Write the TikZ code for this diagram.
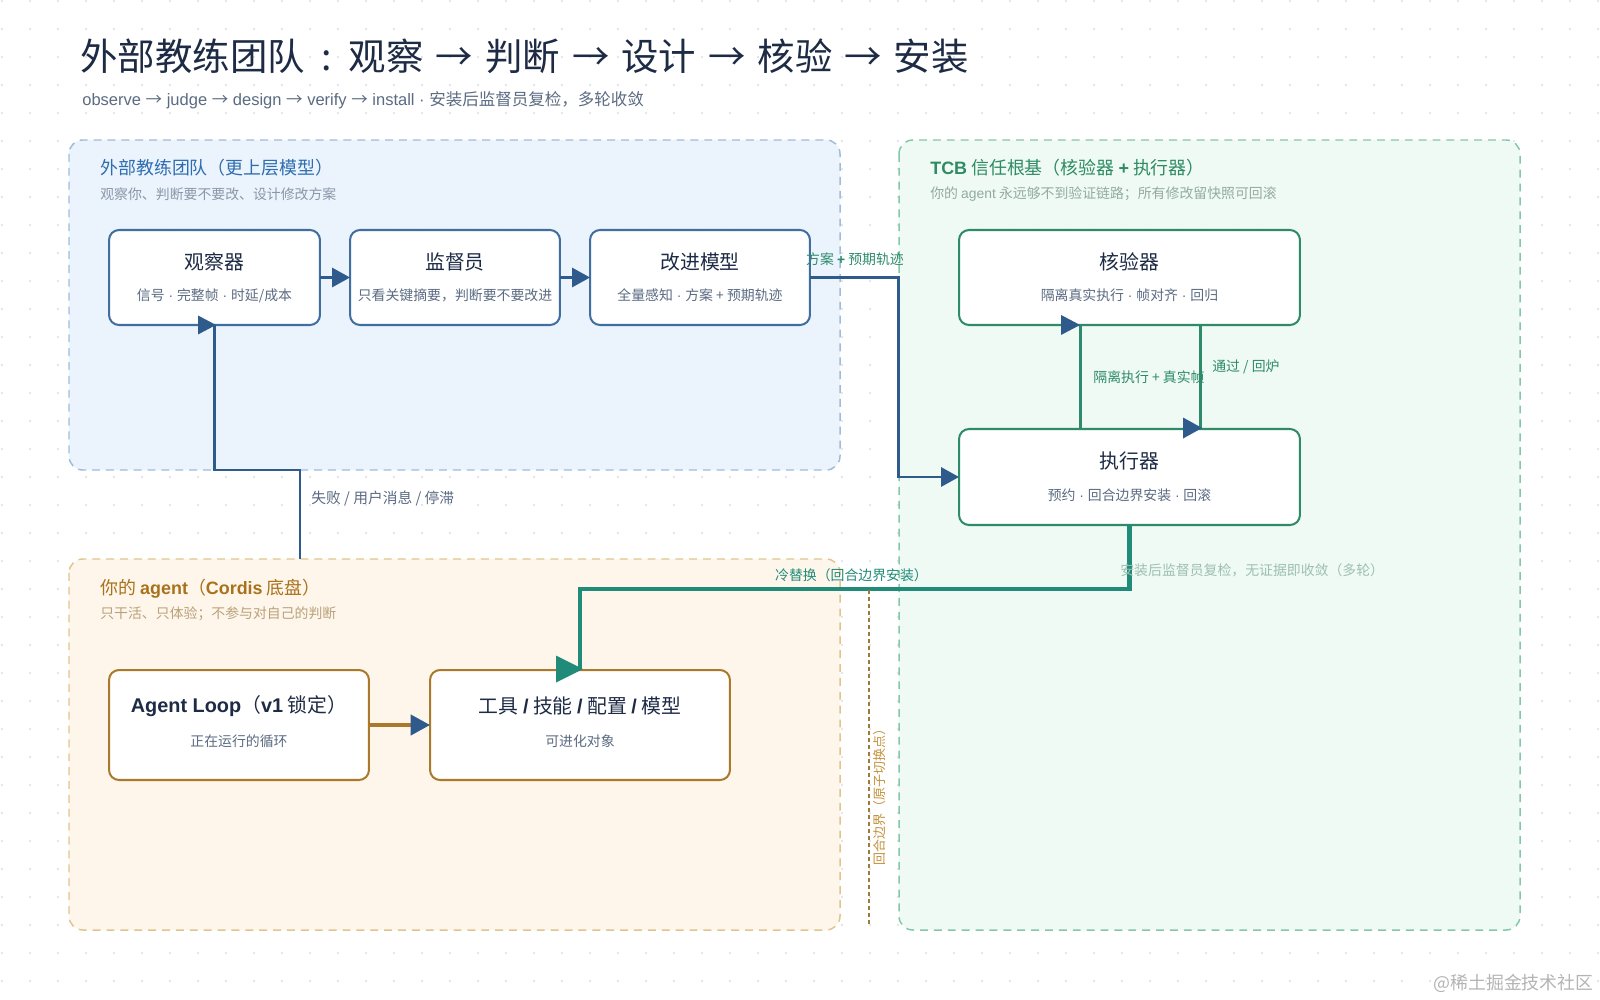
\documentclass[tikz,border=0pt]{standalone}
\usepackage{fontspec}
\setmainfont{Noto Sans CJK SC}
\newfontfamily\lat{Liberation Sans}
\usetikzlibrary{arrows.meta,calc}
\newcommand\fsz[1]{\fontsize{#1}{#1}\selectfont}
\newcommand\md{{\lat\ ·\ }}
\newcommand\tar{\hspace{0.32em}→\hspace{0.32em}}
\newcommand\sar{{\lat\ }→{\lat\ }}
\definecolor{navy}{HTML}{1E2B45}
\definecolor{slate}{HTML}{5B6B82}
\definecolor{dotc}{HTML}{D9DDE3}
\definecolor{bfill}{HTML}{EAF3FD}
\definecolor{bborder}{HTML}{A0BCD8}
\definecolor{btitle}{HTML}{2E6DB0}
\definecolor{bsub}{HTML}{8A97A8}
\definecolor{bbox}{HTML}{3F6E9F}
\definecolor{barrow}{HTML}{2E5B8C}
\definecolor{gfill}{HTML}{EEFAF4}
\definecolor{gborder}{HTML}{84C8A8}
\definecolor{gtitle}{HTML}{2E8B62}
\definecolor{gsub}{HTML}{92ABA2}
\definecolor{gbox}{HTML}{2F8A68}
\definecolor{gline}{HTML}{2E8A6C}
\definecolor{glabel}{HTML}{2E8B6A}
\definecolor{teal}{HTML}{1F8B78}
\definecolor{faint}{HTML}{9DBFB2}
\definecolor{ofill}{HTML}{FEF6EA}
\definecolor{oborder}{HTML}{E0C58E}
\definecolor{otitle}{HTML}{A8721C}
\definecolor{osub}{HTML}{B9A27A}
\definecolor{obox}{HTML}{A97A2C}
\definecolor{odot}{HTML}{9C7A3A}
\definecolor{orot}{HTML}{C4923C}
\definecolor{wm}{HTML}{B4B4B4}
\newcommand\tipR[4]{\fill[#1] (#2) ++(-#3,-#4) -- ++(#3,#4) -- ++(-#3,#4) -- cycle;}
\tikzset{
  grpbox/.style={dash pattern=on 4.5pt off 3.4pt, line width=0.85pt, rounded corners=7.9pt},
  card/.style={draw, fill=white, line width=1.15pt, rounded corners=5.7pt, inner sep=0pt, outer sep=0pt},
  gt/.style={anchor=west, inner sep=0pt, font=\fsz{10.2pt}},
  gs/.style={anchor=west, inner sep=0pt, font=\fsz{7.9pt}},
  ct/.style={inner sep=0pt, font=\fsz{11.3pt}, text=navy},
  cs/.style={inner sep=0pt, font=\fsz{7.9pt}, text=slate},
  elab/.style={inner sep=0pt, font=\fsz{7.9pt}},
  bline/.style={draw=barrow, line width=1.7pt},
  tipB/.style={-{Triangle[length=10.2pt,width=10.8pt,color=barrow]}},
}
\begin{document}
\begin{tikzpicture}[x=0.02cm,y=-0.02cm]
\useasboundingbox (0,0) rectangle (1600,1000);
\fill[white] (0,0) rectangle (1600,1000);
\foreach \i in {0,...,57}{\foreach \j in {0,...,35}{\fill[dotc] (2+28*\i,1+28*\j) circle[radius=0.65pt];}}

% groups
\draw[grpbox, draw=bborder, fill=bfill, fill opacity=0.92] (69,140) rectangle (840,470);
\draw[grpbox, draw=gborder, fill=gfill, fill opacity=0.92] (899,140) rectangle (1520,930);
\draw[grpbox, draw=oborder, fill=ofill, fill opacity=0.92] (69,559) rectangle (840,930);

% titles
\node[anchor=west, inner sep=0pt, font=\fsz{21.3pt}, text=navy] (title) at (80,56) {外部教练团队\hspace{0.45em}:\hspace{0.45em}观察\tar 判断\tar 设计\tar 核验\tar 安装};
\node[anchor=west, inner sep=0pt, font=\fsz{9.4pt}, text=slate] (subtitle) at (82,100) {{\lat observe}\sar{\lat judge}\sar{\lat design}\sar{\lat verify}\sar{\lat install}\md 安装后监督员复检，多轮收敛};

\node[gt, text=btitle] (bT) at (100,168) {外部教练团队（更上层模型）};
\node[gs, text=bsub] (bS) at (100,194) {观察你、判断要不要改、设计修改方案};
\node[gt, text=gtitle] (gT) at (930,168) {{\lat\bfseries TCB} 信任根基（核验器 {\lat\bfseries +} 执行器）};
\node[gs, text=gsub] (gS) at (930,194) {你的 {\lat agent} 永远够不到验证链路；所有修改留快照可回滚};
\node[gt, text=otitle] (oT) at (100,589) {你的 {\lat\bfseries agent}（{\lat\bfseries Cordis} 底盘）};
\node[gs, text=osub] (oS) at (100,614) {只干活、只体验；不参与对自己的判断};

% cards
\node[card, draw=bbox, minimum width=4.22cm, minimum height=1.9cm] (obs) at (214.5,277.5) {};
\node[ct] (obsT) at ($(obs.center)+(0,-16)$) {观察器};
\node[cs] (obsS) at ($(obs.center)+(0,18)$) {信号\md 完整帧\md 时延/成本};

\node[card, draw=bbox, minimum width=4.2cm, minimum height=1.9cm] (sup) at (455,277.5) {};
\node[ct] (supT) at ($(sup.center)+(0,-16)$) {监督员};
\node[cs] (supS) at ($(sup.center)+(0,18)$) {只看关键摘要，判断要不要改进};

\node[card, draw=bbox, minimum width=4.4cm, minimum height=1.9cm] (imp) at (700,277.5) {};
\node[ct] (impT) at ($(imp.center)+(0,-16)$) {改进模型};
\node[cs] (impS) at ($(imp.center)+(0,18)$) {全量感知\md 方案 + 预期轨迹};

\node[card, draw=gbox, minimum width=6.82cm, minimum height=1.9cm] (ver) at (1129.5,277.5) {};
\node[ct] (verT) at ($(ver.center)+(0,-16)$) {核验器};
\node[cs] (verS) at ($(ver.center)+(0,18)$) {隔离真实执行\md 帧对齐\md 回归};

\node[card, draw=gbox, minimum width=6.82cm, minimum height=1.92cm] (exe) at (1129.5,477) {};
\node[ct] (exeT) at ($(exe.center)+(0,-16)$) {执行器};
\node[cs] (exeS) at ($(exe.center)+(0,18)$) {预约\md 回合边界安装\md 回滚};

\node[card, draw=obox, minimum width=5.2cm, minimum height=2.2cm] (loop) at (239,725) {};
\node[ct] (loopT) at ($(loop.center)+(0,-19)$) {{\lat\bfseries Agent Loop}（{\lat\bfseries v1} 锁定）};
\node[cs] (loopS) at ($(loop.center)+(0,16)$) {正在运行的循环};

\node[card, draw=obox, minimum width=6cm, minimum height=2.2cm] (tool) at (580,725) {};
\node[ct] (toolT) at ($(tool.center)+(0,-19)$) {工具 {\lat\bfseries /} 技能 {\lat\bfseries /} 配置 {\lat\bfseries /} 模型};
\node[cs] (toolS) at ($(tool.center)+(0,16)$) {可进化对象};

% connectors
\draw[bline, tipB] (obs.east) -- (sup.west);
\draw[bline, tipB] (sup.east) -- (imp.west);
\draw[bline, tipB] (imp.east) -- ++(89,0) |- (exe.west);
\node[elab, text=glabel] (lab1) at (855,259) {方案 {\lat\bfseries +} 预期轨迹};

\coordinate (fb) at (300,559);
\draw[bline] (fb) -- ++(0,-89) -| (obs.south);
\coordinate (obsTip) at ($(obs.south)+(1.5,0)$);
\tipR{barrow}{obsTip}{18}{9.5}
\node[elab, anchor=west, text=slate, font=\fsz{8.4pt}] (lab2) at (311,499) {失败 / 用户消息 / 停滞};

\draw[draw=gline, line width=1.7pt] ($(exe.north west)+(121,0)$) coordinate (ea) -- (ea |- ver.south) coordinate (va);
\tipR{barrow}{va}{19}{10}
\node[elab, text=gline] (lab3) at (1149,377) {隔离执行 + 真实帧};

\draw[draw=gline, line width=1.7pt] ($(ver.south west)+(241,0)$) coordinate (vb) -- (vb |- exe.north) coordinate (eb);
\coordinate (ebTip) at ($(eb)+(2,-1)$);
\tipR{barrow}{ebTip}{19}{10.5}
\node[elab, anchor=west, text=gline] (lab4) at (1212,367) {通过 / 回炉};

\draw[draw=teal, line width=2.4pt] (exe.south) -- ++(0,64) -| (tool.north);
\coordinate (toolTip) at ($(tool.north)+(3,-1)$);
\tipR{teal}{toolTip}{27}{13.5}
\node[elab, text=teal] (lab5) at (851.5,575) {冷替换（回合边界安装）};
\node[elab, anchor=west, text=faint] (lab6) at (1120,570) {安装后监督员复检，无证据即收敛（多轮）};

\draw[draw=obox, line width=2pt, -{Triangle[length=11pt,width=11.5pt,color=barrow]}] (loop.east) -- (tool.west);

% round boundary
\coordinate (rb1) at (869,590);
\coordinate (rb2) at (869,927);
\draw[draw=odot, line width=1.2pt, dash pattern=on 2.3pt off 1.7pt] (rb1) -- (rb2);
\node[inner sep=0pt, rotate=90, font=\fsz{7.4pt}, text=orot] (lab7) at (880,794) {回合边界（原子切换点）};

\node[anchor=east, inner sep=0pt, font=\fsz{10.2pt}, text=wm] (wmk) at (1594,983) {@稀土掘金技术社区};
\end{tikzpicture}
\end{document}
